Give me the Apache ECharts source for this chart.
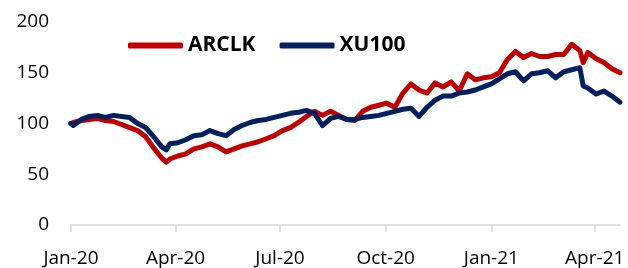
<!DOCTYPE html>
<html>
<head>
<meta charset="utf-8">
<script src="https://cdn.jsdelivr.net/npm/echarts@6/dist/echarts.min.js"></script>
<style>
  html, body { margin: 0; padding: 0; background: #fff; }
  #chart { width: 628px; height: 268px; }
</style>
</head>
<body>
<div id="chart"></div>
<script>
// weekly points (index, Jan 1 2020 = 100)
const dates = [
    '2020-01-01', '2020-01-03', '2020-01-10', '2020-01-17', '2020-01-24', '2020-01-31',
    '2020-02-07', '2020-02-14', '2020-02-21', '2020-02-28',
    '2020-03-06', '2020-03-13', '2020-03-20', '2020-03-24', '2020-03-27',
    '2020-04-03', '2020-04-10', '2020-04-17', '2020-04-24',
    '2020-05-01', '2020-05-08', '2020-05-15', '2020-05-22', '2020-05-29',
    '2020-06-05', '2020-06-12', '2020-06-19', '2020-06-26',
    '2020-07-03', '2020-07-10', '2020-07-17', '2020-07-24', '2020-07-31',
    '2020-08-07', '2020-08-14', '2020-08-21', '2020-08-28',
    '2020-09-04', '2020-09-11', '2020-09-18', '2020-09-25',
    '2020-10-02', '2020-10-09', '2020-10-16', '2020-10-23', '2020-10-30',
    '2020-11-06', '2020-11-13', '2020-11-20', '2020-11-27',
    '2020-12-04', '2020-12-11', '2020-12-18', '2020-12-25',
    '2021-01-01', '2021-01-08', '2021-01-15', '2021-01-22', '2021-01-29',
    '2021-02-05', '2021-02-12', '2021-02-19', '2021-02-26',
    '2021-03-05', '2021-03-12', '2021-03-19', '2021-03-22', '2021-03-26',
    '2021-04-02', '2021-04-09', '2021-04-16', '2021-04-23'
]

const arclk = [
    100, 101, 103, 104, 105, 103,
    102, 99, 96, 93,
    87, 76, 66, 62, 65,
    68, 70, 75, 77,
    80, 77, 72, 75, 78,
    80, 82, 85, 88,
    93, 96, 101, 107, 112,
    108, 112, 108, 104,
    103, 112, 116, 118,
    120, 116, 130, 139, 133,
    130, 140, 136, 141,
    132, 149, 143, 145,
    146, 150, 163, 171, 165,
    169, 166, 166, 168,
    168, 178, 172, 160, 170,
    164, 160, 154, 150
]

const xu100 = [
    100, 98, 104, 107, 108, 106,
    108, 107, 106, 100,
    96, 87, 77, 74, 80,
    81, 84, 88, 89,
    93, 90, 88, 94, 98,
    101, 103, 104, 106,
    108, 110, 111, 113, 110,
    98, 105, 107, 104,
    104, 106, 107, 108,
    110, 112, 114, 115, 107,
    116, 123, 127, 127,
    130, 131, 133, 136,
    139, 144, 149, 151, 142,
    149, 150, 152, 145,
    151, 153, 155, 137, 135,
    129, 132, 127, 121
]

const xTicks = ['2020-01-01', '2020-04-01', '2020-07-01', '2020-10-01', '2021-01-01', '2021-04-01']
const monthNames = ['Jan', 'Feb', 'Mar', 'Apr', 'May', 'Jun', 'Jul', 'Aug', 'Sep', 'Oct', 'Nov', 'Dec']

const toTime = (s) => {
    const p = s.split('-')
    return Date.UTC(+p[0], +p[1] - 1, +p[2])
}

const myChart = echarts.init(document.getElementById('chart'))
const font = '"Open Sans", sans-serif'

const option = {
    animation: false,
    grid: {
        left: 71,
        right: 8,
        top: 22,
        bottom: 40,
    },
    legend: {
        left: 128,
        top: 35,
        padding: 0,
        itemWidth: 55,
        itemHeight: 6,
        itemGap: 24,
        icon: 'roundRect',
        textStyle: {
            color: '#000',
            fontFamily: font,
            fontWeight: 'bold',
            fontSize: 21,
        },
        data: ['ARCLK', 'XU100']
    },
    // dates as UTC timestamps on a value axis, labels only at quarter starts
    xAxis: {
        type: 'value',
        min: toTime('2020-01-01'),
        max: toTime('2021-04-23'),
        splitLine: { show: false },
        axisLine: { lineStyle: { color: '#d9d9d9', width: 1.5 } },
        axisTick: {
            show: true,
            length: 7,
            lineStyle: { color: '#d9d9d9', width: 1.5 },
            customValues: xTicks.map(toTime)
        },
        axisLabel: {
            color: '#000',
            fontFamily: font,
            fontSize: 19,
            margin: 24,
            customValues: xTicks.map(toTime),
            formatter: (v) => {
                const d = new Date(v)
                return monthNames[d.getUTCMonth()] + '-' + String(d.getUTCFullYear()).slice(2)
            }
        }
    },
    yAxis: {
        type: 'value',
        min: 0,
        max: 200,
        interval: 50,
        splitLine: { show: false },
        axisLine: { show: false },
        axisTick: { show: false },
        axisLabel: {
            color: '#000',
            fontFamily: font,
            fontSize: 19,
            margin: 22,
        }
    },
    series: [
        {
            name: 'ARCLK',
            type: 'line',
            symbol: 'none',
            lineStyle: { color: '#c00000', width: 5, join: 'round', cap: 'round' },
            itemStyle: { color: '#c00000' },
            data: dates.map((d, i) => [toTime(d), arclk[i]])
        },
        {
            name: 'XU100',
            type: 'line',
            symbol: 'none',
            lineStyle: { color: '#002060', width: 5, join: 'round', cap: 'round' },
            itemStyle: { color: '#002060' },
            data: dates.map((d, i) => [toTime(d), xu100[i]])
        }
    ]
}

option && myChart.setOption(option)
</script>
</body>
</html>
